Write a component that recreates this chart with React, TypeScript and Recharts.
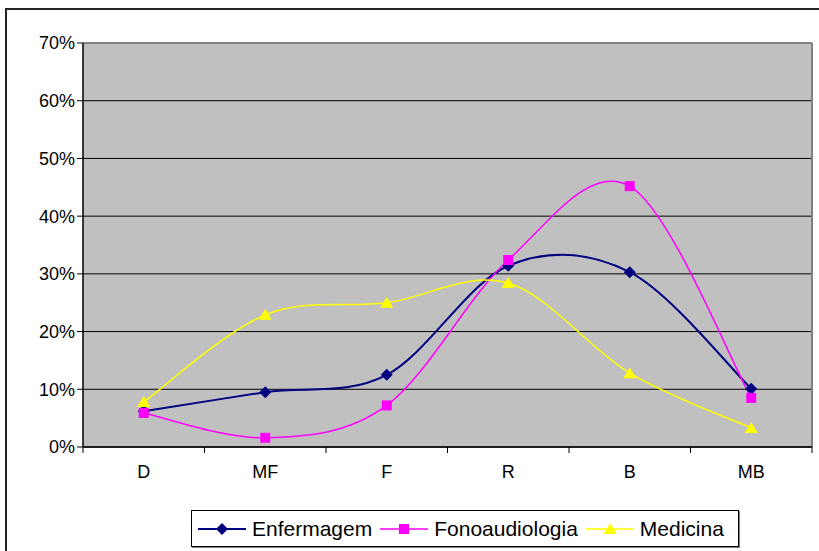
import React from "react";
import { CartesianGrid, Line, LineChart, XAxis, YAxis } from "recharts";

const categories = ["D", "MF", "F", "R", "B", "MB"];
const enfermagem = [6.2, 9.5, 12.5, 31.4, 30.3, 10.1];
const fonoaudiologia = [5.9, 1.6, 7.2, 32.4, 45.2, 8.5];
const medicina = [7.8, 22.9, 25.0, 28.4, 12.8, 3.3];
const yTicks = [0, 10, 20, 30, 40, 50, 60, 70];

const FONT = "'Liberation Sans', Arial, sans-serif";

const data = categories.map((name, i) => ({
  name,
  Enfermagem: enfermagem[i],
  Fonoaudiologia: fonoaudiologia[i],
  Medicina: medicina[i],
}));

// Excel-like smoothed line (Catmull-Rom style bezier)
function excelCurve(context: any) {
  let pts: number[][] = [];
  return {
    areaStart() {},
    areaEnd() {},
    lineStart() {
      pts = [];
    },
    point(x: number, y: number) {
      pts.push([+x, +y]);
    },
    lineEnd() {
      const n = pts.length;
      if (!n) return;
      context.moveTo(pts[0][0], pts[0][1]);
      for (let i = 0; i < n - 1; i++) {
        const p0 = pts[Math.max(i - 1, 0)];
        const p1 = pts[i];
        const p2 = pts[i + 1];
        const p3 = pts[Math.min(i + 2, n - 1)];
        context.bezierCurveTo(
          p1[0] + (p2[0] - p0[0]) / 6,
          p1[1] + (p2[1] - p0[1]) / 6,
          p2[0] - (p3[0] - p1[0]) / 6,
          p2[1] - (p3[1] - p1[1]) / 6,
          p2[0],
          p2[1]
        );
      }
    },
  };
}

const Diamond = ({ cx, cy, fill }: any) => (
  <path d={`M${cx},${cy - 6}L${cx + 6},${cy}L${cx},${cy + 6}L${cx - 6},${cy}Z`} fill={fill} />
);
const Square = ({ cx, cy, fill }: any) => (
  <rect x={cx - 5} y={cy - 5} width={10} height={10} fill={fill} />
);
const Triangle = ({ cx, cy, fill }: any) => (
  <path d={`M${cx},${cy - 6}L${cx + 6.5},${cy + 5}L${cx - 6.5},${cy + 5}Z`} fill={fill} />
);

const series = [
  { key: "Enfermagem", color: "#000080", width: 2, Marker: Diamond },
  { key: "Fonoaudiologia", color: "#FF00FF", width: 1.5, Marker: Square },
  { key: "Medicina", color: "#FFFF00", width: 1.5, Marker: Triangle },
];

// category label plus Excel-style tick marks between categories
const CatTick = (props: any) => {
  const { x, y, payload, index, width, visibleTicksCount } = props;
  const band = width / visibleTicksCount;
  const axisY = y - 8;
  return (
    <g>
      <line x1={x - band / 2} y1={axisY} x2={x - band / 2} y2={axisY + 6} stroke="#000" />
      {index === visibleTicksCount - 1 ? (
        <line x1={x + band / 2} y1={axisY} x2={x + band / 2} y2={axisY + 6} stroke="#000" />
      ) : null}
      <text x={x} y={y + 23} textAnchor="middle" fontSize={18} fontFamily={FONT} fill="#000">
        {payload.value}
      </text>
    </g>
  );
};

export default function App() {
  return (
    <div
      style={{
        position: "absolute",
        left: 0,
        top: 0,
        width: 819,
        height: 551,
        overflow: "hidden",
        background: "#fff",
      }}
    >
      <div
        style={{
          position: "absolute",
          left: 5,
          top: 8,
          width: 900,
          height: 700,
          border: "2px solid #222",
        }}
      />
      <div style={{ position: "absolute", left: 0, top: 0 }}>
        <LineChart
          width={819}
          height={551}
          data={data}
          margin={{ top: 43, right: 7, left: 23, bottom: 74 }}
        >
          <CartesianGrid xAxisId="cat" fill="#C0C0C0" stroke="#000" vertical={false} strokeWidth={1} />
          <CartesianGrid
            xAxisId="cat"
            horizontalPoints={[43]}
            verticalPoints={[812]}
            stroke="#808080"
            strokeWidth={2}
            fill="none"
          />
          <XAxis
            xAxisId="cat"
            dataKey="name"
            scale="band"
            height={30}
            axisLine={{ stroke: "#000", strokeWidth: 1.5 }}
            tickLine={false}
            tick={<CatTick />}
            interval={0}
          />
          <YAxis
            width={60}
            domain={[0, 70]}
            ticks={yTicks}
            tickFormatter={(v) => `${v}%`}
            axisLine={{ stroke: "#000", strokeWidth: 1.5 }}
            tickLine={{ stroke: "#000" }}
            tickSize={6}
            tick={{ fontSize: 18, fontFamily: FONT, fill: "#000" }}
            interval={0}
          />
          {series.map((s) => (
            <Line
              key={s.key}
              xAxisId="cat"
              dataKey={s.key}
              type={excelCurve as any}
              stroke={s.color}
              strokeWidth={s.width}
              dot={(p: any) => <s.Marker key={p.index} cx={p.cx} cy={p.cy} fill={s.color} />}
              activeDot={false}
              isAnimationActive={false}
            />
          ))}
        </LineChart>
      </div>
      <div
        style={{
          position: "absolute",
          left: 191,
          top: 510,
          width: 548,
          height: 37,
          border: "1px solid #000",
          boxShadow: "1px 1px 0 #808080",
          display: "flex",
          alignItems: "center",
          fontFamily: FONT,
          fontSize: 21,
          color: "#000",
          background: "#fff",
          boxSizing: "border-box",
          paddingLeft: 6,
        }}
      >
        {series.map((s) => (
          <div key={s.key} style={{ display: "flex", alignItems: "center", marginRight: 8 }}>
            <svg width={48} height={16} style={{ marginRight: 6 }}>
              <line x1={0} y1={8} x2={48} y2={8} stroke={s.color} strokeWidth={s.width} />
              <s.Marker cx={24} cy={8} fill={s.color} />
            </svg>
            <span>{s.key}</span>
          </div>
        ))}
      </div>
    </div>
  );
}
